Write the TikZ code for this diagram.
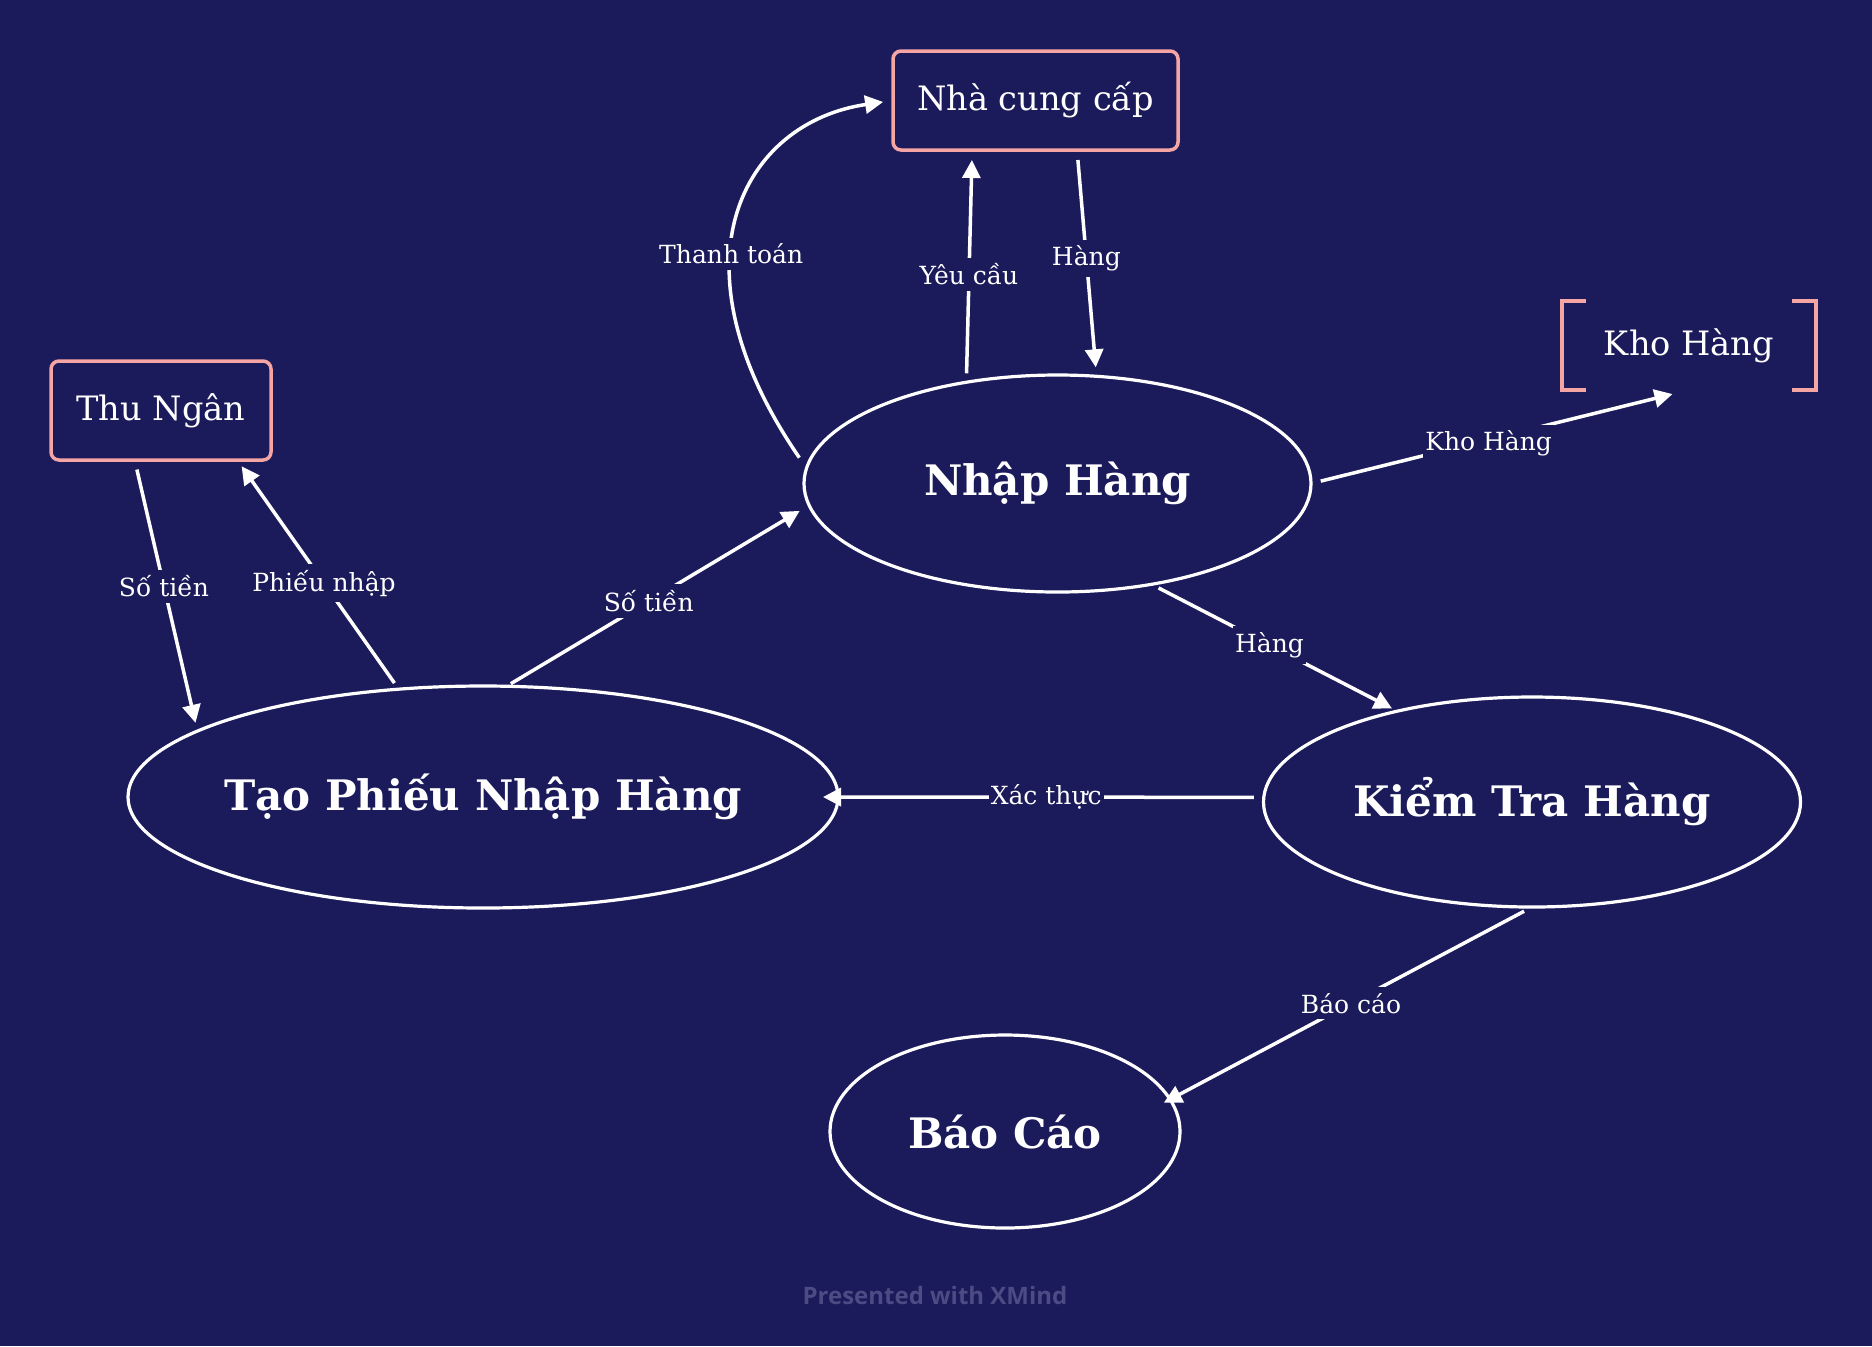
\documentclass[tikz,border=0pt]{standalone}
\usepackage{fontspec}
\setmainfont{DejaVu Serif}
\newfontfamily\creditfont{Open Sans}
\usetikzlibrary{arrows.meta,shapes.geometric}

\definecolor{navy}{RGB}{27,26,90}
\definecolor{salmon}{RGB}{246,165,165}
\definecolor{faded}{RGB}{76,75,132}

\begin{document}
\begin{tikzpicture}[x=0.5pt,y=-0.5pt,
    topic/.style={ellipse,draw=white,line width=1.6pt,fill=navy,inner sep=0pt,outer sep=0pt},
    topictext/.style={text=white,font=\bfseries\fontsize{21}{25}\selectfont},
    entity/.style={rectangle,rounded corners=4pt,draw=salmon,line width=1.75pt,fill=navy,
        text=white,font=\fontsize{16.8}{20}\selectfont,inner sep=0pt,outer sep=0pt},
    flow/.style={white,line width=1.75pt,-{Triangle[length=9pt,width=9pt]}},
    flowlabel/.style={fill=navy,text=white,font=\fontsize{12.5}{15}\selectfont,
        inner xsep=1pt,inner ysep=3pt}]

    % background
    \fill[navy] (0,0) rectangle (1872,1346);
    \useasboundingbox (0,0) rectangle (1872,1346);

    % outside entities
    \node[entity,minimum width=142.5pt,minimum height=49.5pt] (ncc) at (1035.5,100.5) {Nhà cung cấp};
    \node[entity,minimum width=110pt,minimum height=49.5pt] (tn) at (161,410.5) {Thu Ngân};
    \node[text=white,font=\fontsize{16.8}{20}\selectfont,minimum width=127pt,minimum height=44.5pt,
        inner sep=0pt,outer sep=0pt] (kho) at (1689,345.5) {Kho Hàng};
    \draw[salmon,line width=1.75pt] ([xshift=12pt]kho.north west) -| (kho.south west) -- ++(12pt,0);
    \draw[salmon,line width=1.75pt] ([xshift=-12pt]kho.north east) -| (kho.south east) -- ++(-12pt,0);

    % processes
    \node[topic,minimum width=253.5pt,minimum height=108.5pt,label={[topictext]center:Nhập Hàng}] (nh) at (1057.5,483.5) {};
    \node[topic,minimum width=355pt,minimum height=111pt,label={[topictext]center:Tạo Phiếu Nhập Hàng}] (tp) at (483,797) {};
    \node[topic,minimum width=268.5pt,minimum height=105pt,label={[topictext]center:Kiểm Tra Hàng}] (kt) at (1532,802) {};
    \node[topic,minimum width=175pt,minimum height=96.5pt,label={[topictext]center:Báo Cáo}] (bc) at (1005,1131.5) {};

    % data flows
    \draw[flow,shorten >=5pt] ([xshift=-6pt]nh.174) .. controls +(-134,-195) and +(-150,22) .. (ncc.west)
        node[flowlabel,pos=0.4] {Thanh toán};
    \draw[flow,shorten <=4.5pt,shorten >=5pt] (nh.132) -- (ncc.218) node[flowlabel,pos=0.464] {Yêu cầu};
    \draw[flow,shorten <=5pt,shorten >=4.5pt] (ncc.310) -- (nh.70) node[flowlabel,pos=0.479] {Hàng};
    \draw[flow,shorten <=5pt,shorten >=8.5pt] (nh.0) -- (kho.south) node[flowlabel,pos=0.47,yshift=-2pt] {Kho Hàng};
    \draw[flow,shorten <=4pt,shorten >=3pt] (nh.-47) -- (kt.146) node[flowlabel,pos=0.48] {Hàng};
    \draw[flow,shorten <=5pt,shorten >=-7.5pt] (kt.179) -- (tp.east) node[flowlabel,pos=0.511] {Xác thực};
    \draw[flow,shorten <=4.5pt,shorten >=-3.5pt] (kt.south) -- (bc.11) node[flowlabel,midway] {Báo cáo};
    \draw[flow,shorten <=2.5pt,shorten >=5.5pt] (tp.78) -- (nh.185) node[flowlabel,pos=0.47] {Số tiền};
    \draw[flow,shorten <=3.75pt,shorten >=3.8pt] (tp.128) -- (tn.-33) node[flowlabel,pos=0.463] {Phiếu nhập};
    \draw[flow,shorten <=4.9pt,shorten >=4.25pt] (tn.242) -- (tp.167) node[flowlabel,pos=0.466] {Số tiền};

    \node[text=faded,font=\creditfont\bfseries\fontsize{12}{14}\selectfont] (credit) at (935,1295) {Presented with XMind};
\end{tikzpicture}
\end{document}
